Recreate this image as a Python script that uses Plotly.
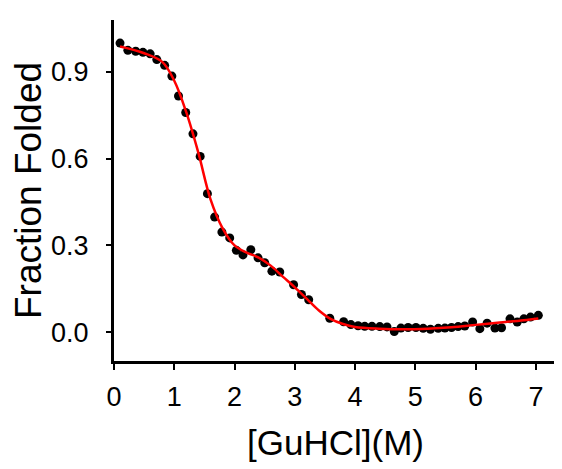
import plotly.graph_objects as go

# Measured data: denaturant concentration (M) and fraction folded
gu_conc = [0.10, 0.23, 0.36, 0.48, 0.60, 0.71, 0.84, 0.96, 1.07, 1.19,
           1.31, 1.43, 1.55, 1.67, 1.79, 1.92, 2.03, 2.14, 2.27, 2.39,
           2.50, 2.62, 2.75, 2.98, 3.11, 3.23, 3.58, 3.81, 3.93, 4.05,
           4.16, 4.28, 4.41, 4.53, 4.65, 4.76, 4.88, 5.01, 5.13, 5.25,
           5.38, 5.49, 5.60, 5.71, 5.82, 5.95, 6.07, 6.19, 6.32, 6.43,
           6.57, 6.69, 6.80, 6.91, 7.04]
frac_folded = [1.000, 0.975, 0.972, 0.968, 0.963, 0.943, 0.923, 0.886, 0.817, 0.760,
               0.686, 0.608, 0.479, 0.398, 0.346, 0.326, 0.283, 0.267, 0.285, 0.257,
               0.240, 0.211, 0.208, 0.164, 0.130, 0.112, 0.048, 0.036, 0.026, 0.022,
               0.020, 0.020, 0.019, 0.018, 0.002, 0.014, 0.016, 0.016, 0.013, 0.010,
               0.013, 0.014, 0.016, 0.019, 0.021, 0.035, 0.012, 0.031, 0.014, 0.015,
               0.046, 0.035, 0.046, 0.052, 0.058]

# Fitted curve
fit_conc = [0.10, 0.50, 0.80, 1.00, 1.20, 1.40, 1.60, 1.80, 2.00, 2.20,
            2.40, 2.60, 2.80, 3.00, 3.20, 3.40, 3.60, 3.80, 4.00, 4.40,
            4.80, 5.20, 5.60, 6.00, 6.40, 6.80, 7.04]
fit_frac = [0.988, 0.965, 0.935, 0.870, 0.760, 0.620, 0.460, 0.360, 0.300, 0.275,
            0.258, 0.230, 0.192, 0.155, 0.115, 0.075, 0.045, 0.028, 0.018, 0.012,
            0.010, 0.012, 0.017, 0.025, 0.033, 0.041, 0.047]

x_ticks = [0, 1, 2, 3, 4, 5, 6, 7]
y_ticks = [0.0, 0.3, 0.6, 0.9]
y_tick_text = ["0.0", "0.3", "0.6", "0.9"]

FONT = "Liberation Sans, Arial, sans-serif"

fig = go.Figure()
fig.add_trace(go.Scatter(
    x=gu_conc, y=frac_folded, mode="markers",
    marker=dict(color="black", size=9, line=dict(width=0)),
    showlegend=False,
))
fig.add_trace(go.Scatter(
    x=fit_conc, y=fit_frac, mode="lines",
    line=dict(color="#ff0000", width=2.5, shape="spline", smoothing=1.0),
    showlegend=False,
))

# page body has an 8px default margin, so the figure is sized to fit after it
fig.update_layout(
    width=554, height=461,
    margin=dict(l=106, r=5, t=12, b=108),
    paper_bgcolor="white", plot_bgcolor="white",
    font=dict(family=FONT, color="black"),
    xaxis=dict(
        range=[0, 7.35], tickvals=x_ticks, showgrid=False, zeroline=False,
        automargin=False,
        showline=True, linecolor="black", linewidth=3,
        ticks="outside", ticklen=6, tickwidth=1.5, tickcolor="black",
        tickfont=dict(size=27), ticklabelstandoff=4,
        title=dict(text="[GuHCl](M)", font=dict(size=35), standoff=20),
    ),
    yaxis=dict(
        range=[-0.1, 1.08], tickvals=y_ticks, ticktext=y_tick_text,
        showgrid=False, zeroline=False, automargin=False,
        showline=True, linecolor="black", linewidth=3,
        ticks="outside", ticklen=5, tickwidth=1.5, tickcolor="black",
        tickfont=dict(size=27), ticklabelstandoff=12,
        title=dict(text="Fraction Folded", font=dict(size=37), standoff=10),
    ),
)

fig.write_html("out.html")
